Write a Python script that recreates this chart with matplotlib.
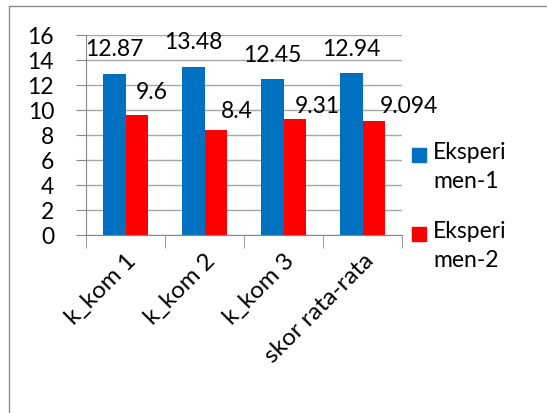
import matplotlib.pyplot as plt
from matplotlib.patches import Rectangle
import numpy as np

categories = ['k_kom 1', 'k_kom 2', 'k_kom 3', 'skor rata-rata']
eksperimen1 = [12.87, 13.48, 12.45, 12.94]
eksperimen2 = [9.6, 8.4, 9.31, 9.094]
labels1 = ['12.87', '13.48', '12.45', '12.94']
labels2 = ['9.6', '8.4', '9.31', '9.094']
series_names = ['Eksperi\nmen-1', 'Eksperi\nmen-2']

plt.rcParams['font.family'] = ['Lato', 'DejaVu Sans']
fs = 16.5

fig = plt.figure(figsize=(5.47, 4.14), dpi=100)
ax = fig.add_axes([86 / 547, 1 - 236 / 414, 316 / 547, 200 / 414])

x = np.arange(len(categories))
w = 0.285
b1 = ax.bar(x - w / 2, eksperimen1, w, color='#0070C0')
b2 = ax.bar(x + w / 2, eksperimen2, w, color='#FF0000')

# label offsets in pixels, placed like the original excel chart
off1 = [(0, 26), (0, 25), (0, 25), (0, 25)]
off2 = [(15, 23), (21, 19), (23, 13), (35, 16)]
for rect, txt, (dx, dy) in zip(b1, labels1, off1):
    ax.annotate(txt, (rect.get_x() + rect.get_width() / 2, rect.get_height()),
                xytext=(dx, dy), textcoords='offset pixels',
                ha='center', va='center', fontsize=fs, color='black')
for rect, txt, (dx, dy) in zip(b2, labels2, off2):
    ax.annotate(txt, (rect.get_x() + rect.get_width() / 2, rect.get_height()),
                xytext=(dx, dy), textcoords='offset pixels',
                ha='center', va='center', fontsize=fs, color='black',
                annotation_clip=False)

ax.set_xlim(-0.5, len(categories) - 0.5)
ax.set_ylim(0, 16)
ax.set_yticks(range(0, 17, 2))
ax.set_xticks(x)
ax.set_xticklabels(categories, rotation=45, ha='right', rotation_mode='anchor')
ax.set_xticks(np.arange(-0.5, len(categories)), minor=True)
ax.tick_params(axis='x', which='major', length=0, pad=10, labelsize=17.5)
ax.tick_params(axis='x', which='minor', length=9, color='#888888')
ax.tick_params(axis='y', length=7, color='#888888', pad=16, labelsize=fs)

ax.grid(axis='y', color='#A6A6A6', linewidth=1)
ax.set_axisbelow(True)
for s in ['top', 'right']:
    ax.spines[s].set_visible(False)
ax.spines['left'].set_color('#888888')
ax.spines['bottom'].set_color('#888888')

# legend drawn by hand so the square sits beside the first line, as in excel
for i, (bars, name) in enumerate([(b1, series_names[0]), (b2, series_names[1])]):
    top = 149 + 79 * i
    fig.patches.append(Rectangle((412 / 547, 1 - (top + 14) / 414), 14 / 547, 14 / 414,
                                 transform=fig.transFigure,
                                 color=bars[0].get_facecolor()))
    fig.text(433 / 547, 1 - (top - 7) / 414, name, ha='left', va='top',
             fontsize=fs, linespacing=1.45)

fig.patches.append(Rectangle((9 / 547, -0.1), 1.2, 1.1 - 7 / 414,
                             transform=fig.transFigure, fill=False,
                             edgecolor='#8C8C8C', linewidth=1))

fig.savefig('out.png', dpi=100)
